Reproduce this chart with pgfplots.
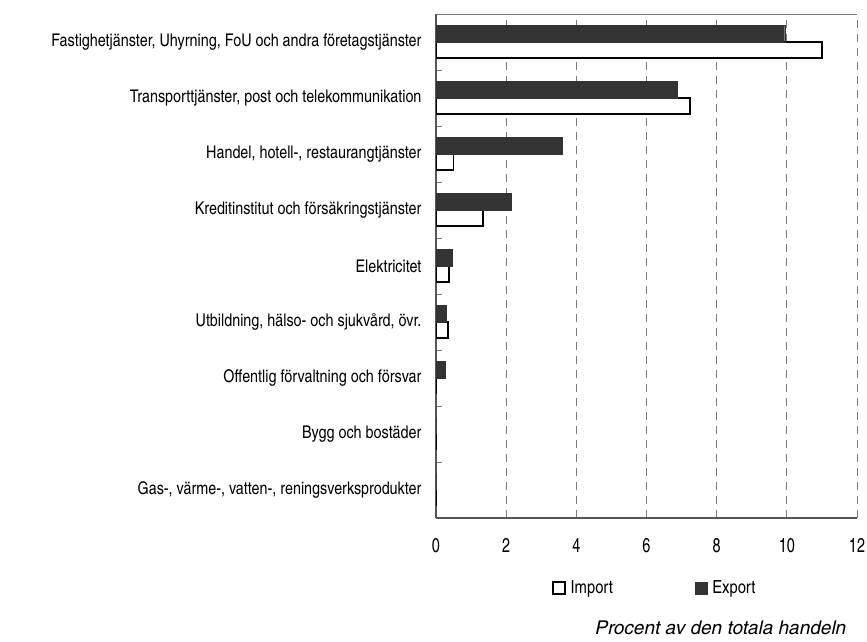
\documentclass[border=0pt]{standalone}
\usepackage{fontspec}
\setmainfont{TeX Gyre Heros Cn}
\newfontfamily\widefont{TeX Gyre Heros Cn}[FakeStretch=1.22]
\newfontfamily\tickfont{TeX Gyre Heros Cn}[FakeStretch=0.88]
\usepackage{pgfplots}
\pgfplotsset{compat=1.18}
\definecolor{exportgray}{HTML}{333333}
\definecolor{gridgray}{HTML}{7A7A7A}
\definecolor{axisgray}{HTML}{555555}

\begin{document}
\begin{tikzpicture}
\path[use as bounding box] (0pt,0pt) rectangle (867pt,-641pt);
\begin{axis}[
  at={(436pt,-14pt)}, anchor=north west,
  scale only axis, width=421pt, height=504pt,
  xmin=0, xmax=12, ymin=0.5, ymax=9.5,
  xtick={0,2,...,12},
  ytick={1,...,9},
  yticklabels={
    {Gas-, värme-, vatten-, reningsverksprodukter},
    {Bygg och bostäder},
    {Offentlig förvaltning och försvar},
    {Utbildning, hälso- och sjukvård, övr.},
    {Elektricitet},
    {Kreditinstitut och försäkringstjänster},
    {Handel, hotell-, restaurangtjänster},
    {Transporttjänster, post och telekommunikation},
    {Fastighetjänster, Uhyrning, FoU och andra företagstjänster}},
  minor ytick={1.5,2.5,...,8.5},
  major tick length=0pt, minor tick length=6pt,
  minor tick style={gridgray, line width=1pt},
  axis lines*=left,
  axis line style={axisgray, line width=1.3pt},
  xmajorgrids,
  major grid style={gridgray, line width=1pt, dash pattern=on 8pt off 6pt},
  /pgf/number format/assume math mode=true,
  xticklabel style={font=\fontsize{20}{22}\selectfont\tickfont, yshift=-17pt},
  yticklabel style={font=\fontsize{17.5}{19}\selectfont, xshift=-11pt},
  xlabel={Procent av den totala handeln},
  xlabel style={font=\fontsize{19}{21}\selectfont\widefont\itshape, at={(rel axis cs:0.983,-0.218)}, anchor=east},
  legend columns=2,
  legend style={draw=none, fill=none, at={(rel axis cs:0.52,-0.139)}, anchor=center,
    font=\fontsize{18}{20}\selectfont,
    /tikz/every even column/.append style={column sep=80pt}},
  legend image code/.code={\draw[#1] (0pt,-6pt) rectangle (12pt,6pt); \path (15pt,0pt);},
]
\draw[gridgray, line width=1pt] (rel axis cs:0,1) -- (rel axis cs:1,1);
\addplot[xbar, bar width=16pt, bar shift=-8pt, fill=white, draw=black, line width=1.2pt]
  coordinates {(0,1) (0,2) (0,3) (0.34,4) (0.37,5) (1.34,6) (0.5,7) (7.24,8) (11.0,9)};
\addplot[xbar, bar width=17pt, bar shift=8pt, fill=exportgray, draw=exportgray]
  coordinates {(0,1) (0,2) (0.26,3) (0.29,4) (0.46,5) (2.15,6) (3.61,7) (6.87,8) (9.94,9)};
\legend{Import, Export}
\end{axis}
\end{tikzpicture}
\end{document}
